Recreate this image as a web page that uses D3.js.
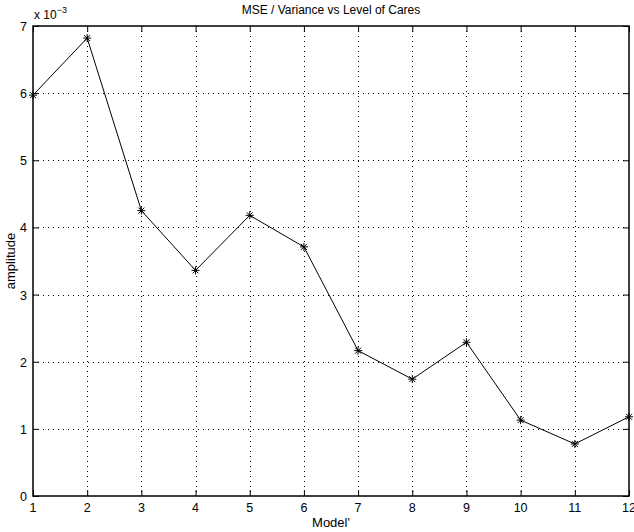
<!DOCTYPE html>
<html>
<head>
<meta charset="utf-8">
<script src="https://cdn.jsdelivr.net/npm/d3@7"></script>
<style>
body { margin: 0; background: #fff; }
svg text { font-family: "Liberation Sans", Arial, sans-serif; fill: #000; }
</style>
</head>
<body>
<svg id="chart" width="634" height="532"></svg>
<script>
// data (values in units of 1e-3)
var models = [1, 2, 3, 4, 5, 6, 7, 8, 9, 10, 11, 12];
var amplitude = [5.97, 6.82, 4.25, 3.36, 4.18, 3.71, 2.165, 1.74, 2.29, 1.13, 0.775, 1.18];
var xTicks = [1, 2, 3, 4, 5, 6, 7, 8, 9, 10, 11, 12];
var yTicks = [0, 1, 2, 3, 4, 5, 6, 7];

var svg = d3.select('#chart');
var plotLeft = 33, plotRight = 629, plotTop = 26, plotBottom = 496;

var x = d3.scaleLinear().domain([1, 12]).range([plotLeft, plotRight]);
var y = d3.scaleLinear().domain([0, 7]).range([plotBottom, plotTop]);

// grid
var grid = svg.append('g')
    .attr('stroke', '#000')
    .attr('stroke-width', 1)
    .attr('stroke-dasharray', '1,4');
grid.selectAll('line.gx')
    .data(xTicks.slice(1, -1))
    .enter().append('line')
    .attr('x1', function(d) { return Math.round(x(d)) + 0.5; })
    .attr('x2', function(d) { return Math.round(x(d)) + 0.5; })
    .attr('y1', plotTop).attr('y2', plotBottom);
grid.selectAll('line.gy')
    .data(yTicks.slice(1, -1))
    .enter().append('line')
    .attr('y1', function(d) { return Math.round(y(d)) + 0.5; })
    .attr('y2', function(d) { return Math.round(y(d)) + 0.5; })
    .attr('x1', plotLeft).attr('x2', plotRight);

// axes, ticks pointing inward, on all four sides
var tickLen = 6;
svg.append('g')
    .attr('transform', 'translate(0,' + plotBottom + ')')
    .call(d3.axisTop(x).tickValues(xTicks).tickSize(tickLen).tickFormat(''))
    .call(function(g) { g.select('.domain').remove(); });
svg.append('g')
    .attr('transform', 'translate(0,' + plotTop + ')')
    .call(d3.axisBottom(x).tickValues(xTicks).tickSize(tickLen).tickFormat(''))
    .call(function(g) { g.select('.domain').remove(); });
svg.append('g')
    .attr('transform', 'translate(' + plotLeft + ',0)')
    .call(d3.axisRight(y).tickValues(yTicks).tickSize(tickLen).tickFormat(''))
    .call(function(g) { g.select('.domain').remove(); });
svg.append('g')
    .attr('transform', 'translate(' + plotRight + ',0)')
    .call(d3.axisLeft(y).tickValues(yTicks).tickSize(tickLen).tickFormat(''))
    .call(function(g) { g.select('.domain').remove(); });

svg.append('rect')
    .attr('x', plotLeft).attr('y', plotTop)
    .attr('width', plotRight - plotLeft).attr('height', plotBottom - plotTop)
    .attr('fill', 'none').attr('stroke', '#000').attr('stroke-width', 1.5);

// tick labels
svg.selectAll('text.xl')
    .data(xTicks)
    .enter().append('text')
    .attr('x', function(d) { return x(d); })
    .attr('y', plotBottom + 16)
    .attr('text-anchor', 'middle')
    .attr('font-size', 12.5)
    .text(function(d) { return d; });
svg.selectAll('text.yl')
    .data(yTicks)
    .enter().append('text')
    .attr('x', plotLeft - 6)
    .attr('y', function(d) { return y(d) + 5; })
    .attr('text-anchor', 'end')
    .attr('font-size', 12.5)
    .text(function(d) { return d; });

// exponent
var ex = svg.append('text').attr('x', 34).attr('y', 19).attr('font-size', 12);
ex.append('tspan').text('x 10');
ex.append('tspan').attr('dy', -6).attr('font-size', 9).text('\u22123');

// titles
svg.append('text')
    .attr('x', (plotLeft + plotRight) / 2).attr('y', 14)
    .attr('text-anchor', 'middle').attr('font-size', 12)
    .text('MSE / Variance vs Level of Cares');
svg.append('text')
    .attr('x', (plotLeft + plotRight) / 2).attr('y', 527)
    .attr('text-anchor', 'middle').attr('font-size', 13)
    .text("Model'");
svg.append('text')
    .attr('transform', 'translate(15,' + ((plotTop + plotBottom) / 2) + ') rotate(-90)')
    .attr('text-anchor', 'middle').attr('font-size', 13)
    .text('amplitude');

// line
var line = d3.line()
    .x(function(d, i) { return x(models[i]); })
    .y(function(d) { return y(d); });
svg.append('path')
    .datum(amplitude)
    .attr('d', line)
    .attr('fill', 'none')
    .attr('stroke', '#000')
    .attr('stroke-width', 1);

// star markers
var star = svg.append('g').attr('stroke', '#000').attr('stroke-width', 1);
amplitude.forEach(function(v, i)
{
    var cx = x(models[i]), cy = y(v), r = 4;
    star.append('path')
        .attr('d', 'M' + (cx - r) + ',' + cy + 'H' + (cx + r) +
                   'M' + cx + ',' + (cy - r) + 'V' + (cy + r) +
                   'M' + (cx - 3) + ',' + (cy - 3) + 'L' + (cx + 3) + ',' + (cy + 3) +
                   'M' + (cx - 3) + ',' + (cy + 3) + 'L' + (cx + 3) + ',' + (cy - 3));
});
</script>
</body>
</html>
